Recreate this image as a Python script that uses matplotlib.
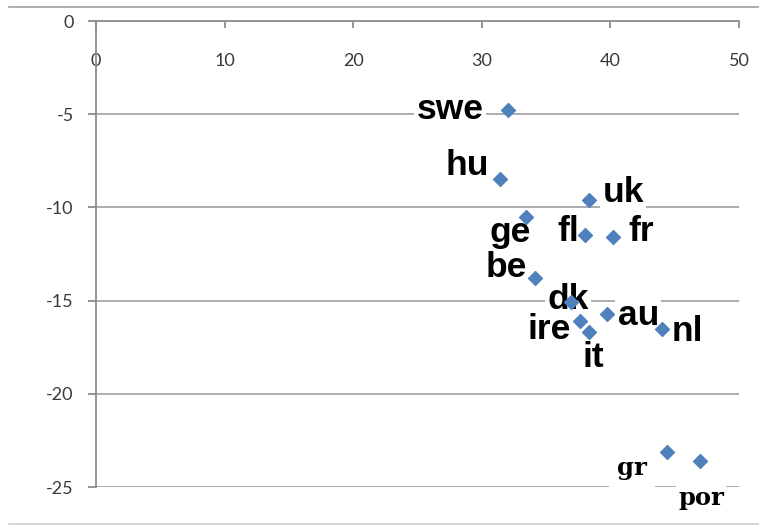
import matplotlib
matplotlib.use('Agg')
import matplotlib.pyplot as plt
from matplotlib.lines import Line2D

# data
countries = ['swe', 'hu', 'uk', 'ge', 'fl', 'fr', 'be', 'dk', 'ire', 'au', 'nl', 'it', 'gr', 'por']
xValues = [32.0, 31.4, 38.3, 33.4, 38.0, 40.2, 34.1, 36.9, 37.6, 39.7, 44.0, 38.3, 44.4, 47.0]
yValues = [-4.8, -8.5, -9.6, -10.5, -11.5, -11.6, -13.8, -15.1, -16.1, -15.7, -16.5, -16.7, -23.1, -23.6]
xTicks = [0, 10, 20, 30, 40, 50]
yTicks = [0, -5, -10, -15, -20, -25]

# where each label sits relative to its point (offset points, left/baseline)
labelOffsets = {
	'swe': (-65.5, -5.8), 'hu': (-38.9, 2.9), 'uk': (10.1, -1.4), 'ge': (-25.9, -18.0),
	'fl': (-19.4, -4.3), 'fr': (10.8, -2.9), 'be': (-35.3, 0.7), 'dk': (-16.6, -5.0),
	'ire': (-37.4, -13.0), 'au': (7.9, -7.9), 'nl': (7.2, -8.6), 'it': (-4.3, -25.2),
	'gr': (-36.0, -16.6), 'por': (-15.8, -31.7),
}
serifLabels = ['gr', 'por']

fig = plt.figure(figsize=(7.59, 5.25), dpi=100)
ax = fig.add_axes([96/759, 1 - 487/525, (739 - 96)/759, (487 - 21)/525])

ax.set_xlim(0, 50)
ax.set_ylim(-25, 0)

# excel style axes: x axis along y=0 at the top
ax.spines['top'].set_visible(False)
ax.spines['right'].set_visible(False)
ax.spines['bottom'].set_position(('data', 0))
for side in ['bottom', 'left']:
	ax.spines[side].set_color('#8c8c8c')
	ax.spines[side].set_linewidth(1.3)

ax.set_xticks(xTicks)
ax.set_yticks(yTicks)
ax.set_xticklabels([str(t) for t in xTicks])
ax.set_yticklabels([str(t) for t in yTicks])
ax.tick_params(axis='x', direction='out', length=5, width=1.3, color='#8c8c8c', pad=18,
	labelsize=13, labelcolor='#3a3a3a')
ax.tick_params(axis='y', direction='out', length=6, width=1.3, color='#8c8c8c', pad=10,
	labelsize=13, labelcolor='#3a3a3a')
for lbl in ax.get_xticklabels() + ax.get_yticklabels():
	lbl.set_family('Lato')

ax.yaxis.grid(True, color='#a6a6a6', linewidth=1.3, zorder=0)
ax.set_axisbelow(True)

ax.scatter(xValues, yValues, marker='D', s=50, color='#4f81bd', zorder=4, clip_on=False)

# data labels, white box behind them hides the gridlines like in excel
for name, x, y in zip(countries, xValues, yValues):
	if name in serifLabels:
		fam, size = 'DejaVu Serif', 17.5
	else:
		fam, size = 'Liberation Sans', 25.5
	pad = 6 if name == 'gr' else 1.5
	ax.annotate(name, (x, y), xytext=labelOffsets[name], textcoords='offset points',
		ha='left', va='baseline', fontsize=size, fontweight='bold', family=fam,
		color='black', zorder=3, annotation_clip=False,
		bbox=dict(boxstyle='square,pad=%g' % (pad / size), fc='white', ec='none'))

# picture frame lines top and bottom
fig.add_artist(Line2D([9/759, 1], [1 - 6.5/525, 1 - 6.5/525], color='#a0a0a0', linewidth=1.2))
fig.add_artist(Line2D([9/759, 1], [1 - 524/525, 1 - 524/525], color='#d0d0d0', linewidth=1.2))

fig.savefig('out.png', dpi=100)
